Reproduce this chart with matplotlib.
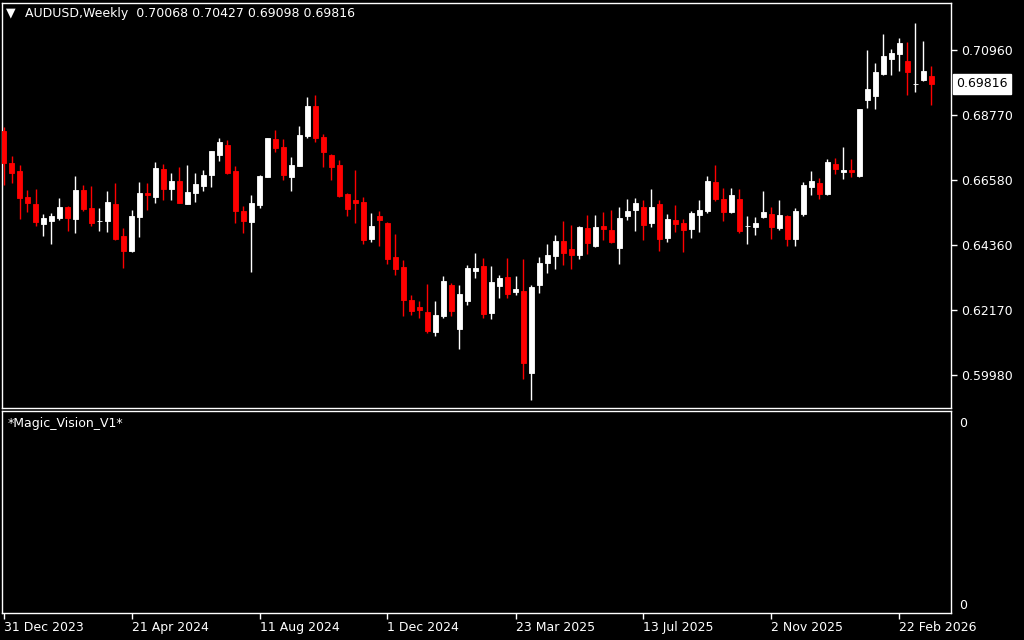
import numpy as np
import pandas as pd
import matplotlib
matplotlib.use("Agg")
import matplotlib.pyplot as plt
from matplotlib.transforms import blended_transform_factory

# AUDUSD weekly candles, first bar = week of 31 Dec 2023
opens = [0.6822, 0.6715, 0.6687, 0.6598, 0.6576, 0.6509, 0.6519, 0.6530, 0.6566, 0.6526,
         0.6623, 0.6562, 0.6519, 0.6519, 0.6576, 0.6468, 0.6418, 0.6533, 0.6613, 0.6600,
         0.6694, 0.6627, 0.6653, 0.6577, 0.6614, 0.6638, 0.6675, 0.6742, 0.6775, 0.6687,
         0.6552, 0.6516, 0.6573, 0.6668, 0.6795, 0.6768, 0.6668, 0.6705, 0.6806, 0.6907,
         0.6802, 0.6741, 0.6708, 0.6610, 0.6589, 0.6583, 0.6458, 0.6535, 0.6512, 0.6397,
         0.6363, 0.6252, 0.6228, 0.6211, 0.6143, 0.6197, 0.6302, 0.6154, 0.6248, 0.6350,
         0.6366, 0.6209, 0.6300, 0.6329, 0.6280, 0.6282, 0.6006, 0.6303, 0.6376, 0.6401,
         0.6451, 0.6424, 0.6405, 0.6495, 0.6435, 0.6501, 0.6488, 0.6428, 0.6535, 0.6556,
         0.6566, 0.6512, 0.6576, 0.6461, 0.6522, 0.6512, 0.6491, 0.6539, 0.6552, 0.6650,
         0.6593, 0.6549, 0.6593, 0.6501, 0.6498, 0.6532, 0.6542, 0.6496, 0.6535, 0.6458,
         0.6542, 0.6633, 0.6647, 0.6610, 0.6711, 0.6684, 0.6691, 0.6670, 0.6927, 0.6941,
         0.7015, 0.7066, 0.7083, 0.7059, 0.6981, 0.6995, 0.70068]
highs = [0.6837, 0.6738, 0.6708, 0.6623, 0.6626, 0.6542, 0.6544, 0.6596, 0.6569, 0.6670,
         0.6640, 0.6637, 0.6562, 0.6620, 0.6647, 0.6496, 0.6556, 0.6650, 0.6647, 0.6718,
         0.6711, 0.6680, 0.6701, 0.6708, 0.6680, 0.6691, 0.6756, 0.6799, 0.6792, 0.6704,
         0.6570, 0.6606, 0.6674, 0.6800, 0.6826, 0.6795, 0.6735, 0.6839, 0.6937, 0.6944,
         0.6812, 0.6745, 0.6724, 0.6613, 0.6691, 0.6599, 0.6545, 0.6552, 0.6515, 0.6475,
         0.6387, 0.6268, 0.6248, 0.6306, 0.6248, 0.6333, 0.6309, 0.6302, 0.6370, 0.6410,
         0.6393, 0.6366, 0.6336, 0.6393, 0.6333, 0.6390, 0.6302, 0.6397, 0.6441, 0.6471,
         0.6518, 0.6505, 0.6501, 0.6539, 0.6539, 0.6549, 0.6556, 0.6567, 0.6593, 0.6596,
         0.6589, 0.6626, 0.6589, 0.6542, 0.6572, 0.6525, 0.6552, 0.6589, 0.6670, 0.6708,
         0.6630, 0.6630, 0.6626, 0.6535, 0.6532, 0.6620, 0.6566, 0.6589, 0.6539, 0.6562,
         0.6650, 0.6687, 0.6664, 0.6728, 0.6731, 0.6768, 0.6728, 0.6897, 0.7096, 0.7052,
         0.7150, 0.7099, 0.7137, 0.7123, 0.7187, 0.7126, 0.70427]
lows = [0.6640, 0.6648, 0.6526, 0.6550, 0.6502, 0.6469, 0.6442, 0.6523, 0.6486, 0.6479,
        0.6553, 0.6502, 0.6486, 0.6482, 0.6455, 0.6361, 0.6415, 0.6465, 0.6557, 0.6580,
        0.6590, 0.6590, 0.6578, 0.6576, 0.6584, 0.6621, 0.6634, 0.6722, 0.6678, 0.6513,
        0.6479, 0.6347, 0.6563, 0.6667, 0.6752, 0.6658, 0.6621, 0.6704, 0.6799, 0.6785,
        0.6702, 0.6657, 0.6599, 0.6535, 0.6512, 0.6441, 0.6447, 0.6434, 0.6373, 0.6336,
        0.6197, 0.6201, 0.6191, 0.6140, 0.6130, 0.6191, 0.6197, 0.6086, 0.6235, 0.6327,
        0.6192, 0.6188, 0.6259, 0.6259, 0.6269, 0.5986, 0.5915, 0.6276, 0.6344, 0.6357,
        0.6371, 0.6357, 0.6391, 0.6408, 0.6432, 0.6455, 0.6445, 0.6374, 0.6522, 0.6485,
        0.6454, 0.6498, 0.6417, 0.6447, 0.6481, 0.6414, 0.6461, 0.6481, 0.6545, 0.6586,
        0.6518, 0.6545, 0.6478, 0.6441, 0.6471, 0.6528, 0.6458, 0.6488, 0.6434, 0.6434,
        0.6535, 0.6606, 0.6593, 0.6606, 0.6677, 0.6660, 0.6667, 0.6667, 0.6900, 0.6897,
        0.7012, 0.7012, 0.7025, 0.6944, 0.6954, 0.6991, 0.69098]
closes = [0.6715, 0.6682, 0.6597, 0.6580, 0.6516, 0.6529, 0.6535, 0.6566, 0.6530, 0.6623,
          0.6559, 0.6513, 0.6520, 0.6583, 0.6459, 0.6418, 0.6535, 0.6613, 0.6607, 0.6697,
          0.6626, 0.6653, 0.6580, 0.6616, 0.6643, 0.6674, 0.6755, 0.6785, 0.6682, 0.6553,
          0.6519, 0.6579, 0.6670, 0.6799, 0.6766, 0.6675, 0.6708, 0.6809, 0.6907, 0.6799,
          0.6751, 0.6701, 0.6603, 0.6559, 0.6579, 0.6454, 0.6501, 0.6522, 0.6390, 0.6356,
          0.6252, 0.6214, 0.6218, 0.6147, 0.6201, 0.6316, 0.6214, 0.6272, 0.6360, 0.6360,
          0.6205, 0.6312, 0.6326, 0.6273, 0.6290, 0.6040, 0.6295, 0.6376, 0.6404, 0.6451,
          0.6411, 0.6405, 0.6498, 0.6445, 0.6498, 0.6492, 0.6448, 0.6529, 0.6552, 0.6579,
          0.6505, 0.6566, 0.6458, 0.6525, 0.6508, 0.6488, 0.6545, 0.6556, 0.6653, 0.6593,
          0.6549, 0.6606, 0.6485, 0.6502, 0.6512, 0.6549, 0.6498, 0.6539, 0.6458, 0.6552,
          0.6640, 0.6653, 0.6610, 0.6718, 0.6694, 0.6691, 0.6684, 0.6896, 0.6964, 0.7022,
          0.7076, 0.7086, 0.7120, 0.7022, 0.6982, 0.7025, 0.69816]

price_ticks = [0.70960, 0.68770, 0.66580, 0.64360, 0.62170, 0.59980]
dates = pd.date_range("2023-12-31", periods=len(opens), freq="7D")
label_step = 16

o = np.array(opens); h = np.array(highs); l = np.array(lows); c = np.array(closes)
x = np.arange(len(o))
cols = np.where(c < o, "#ff0000", "#ffffff")

fig = plt.figure(figsize=(10.24, 6.4), dpi=100, facecolor="black")
W, H = 1024, 640
ax = fig.add_axes([2/W, 1-408/H, 949/W, 405/H], facecolor="black")
ax2 = fig.add_axes([2/W, 1-613/H, 949/W, 202/H], facecolor="black")

xl = (-1.5/8, 947.5/8)

# main chart
ax.vlines(x, l, h, colors=cols, linewidth=1, zorder=2)
ax.bar(x, np.abs(c-o), bottom=np.minimum(o, c), width=0.6, color=cols,
       edgecolor=cols, linewidth=0.6, zorder=3)
ax.set_xlim(*xl)
ax.set_ylim(0.58867, 0.72548)
ax.set_xticks([])
ax.yaxis.tick_right()
ax.set_yticks(price_ticks)
ax.set_yticklabels(["%.5f" % v for v in price_ticks])
ax.tick_params(axis="y", colors="white", length=4, width=1, direction="out",
               labelsize=9, pad=3)
for s in ax.spines.values():
    s.set_color("white"); s.set_linewidth(1)

# current price box
tr = blended_transform_factory(ax.transAxes, ax.transData)
ax.text(956/949 - 2/949, c[-1], "%.5f" % c[-1], transform=tr, ha="left", va="center",
        fontsize=9, color="black", clip_on=False,
        bbox=dict(boxstyle="square,pad=0.25", fc="white", ec="white"))

# indicator window (empty)
ax2.set_xlim(*xl)
ax2.set_ylim(0, 1)
ax2.yaxis.tick_right()
ax2.set_yticks([0.0446, 0.9455])
ax2.set_yticklabels(["0", "0"])
ax2.tick_params(axis="y", colors="white", length=0, labelsize=9, pad=6)
ticks = x[::label_step]
ax2.set_xticks(ticks)
ax2.set_xticklabels(["%d %s" % (dates[i].day, dates[i].strftime("%b %Y")) for i in ticks])
ax2.tick_params(axis="x", colors="white", length=4, width=1, direction="out",
                labelsize=9, pad=2)
for t in ax2.get_xticklabels():
    t.set_horizontalalignment("left")
for s in ax2.spines.values():
    s.set_color("white"); s.set_linewidth(1)

fig.text(6/W, 1-13/H, "\u25bc", color="white", fontsize=9, ha="left", va="center")
fig.text(25/W, 1-13/H, "AUDUSD,Weekly  %.5f %.5f %.5f %.5f" % (o[-1], h[-1], l[-1], c[-1]),
         color="white", fontsize=9, ha="left", va="center")
ax2.text(6/949, 1-13/202, "*Magic_Vision_V1*", transform=ax2.transAxes, color="white",
         fontsize=9, ha="left", va="center")

fig.savefig("out.png", dpi=100, facecolor="black")
